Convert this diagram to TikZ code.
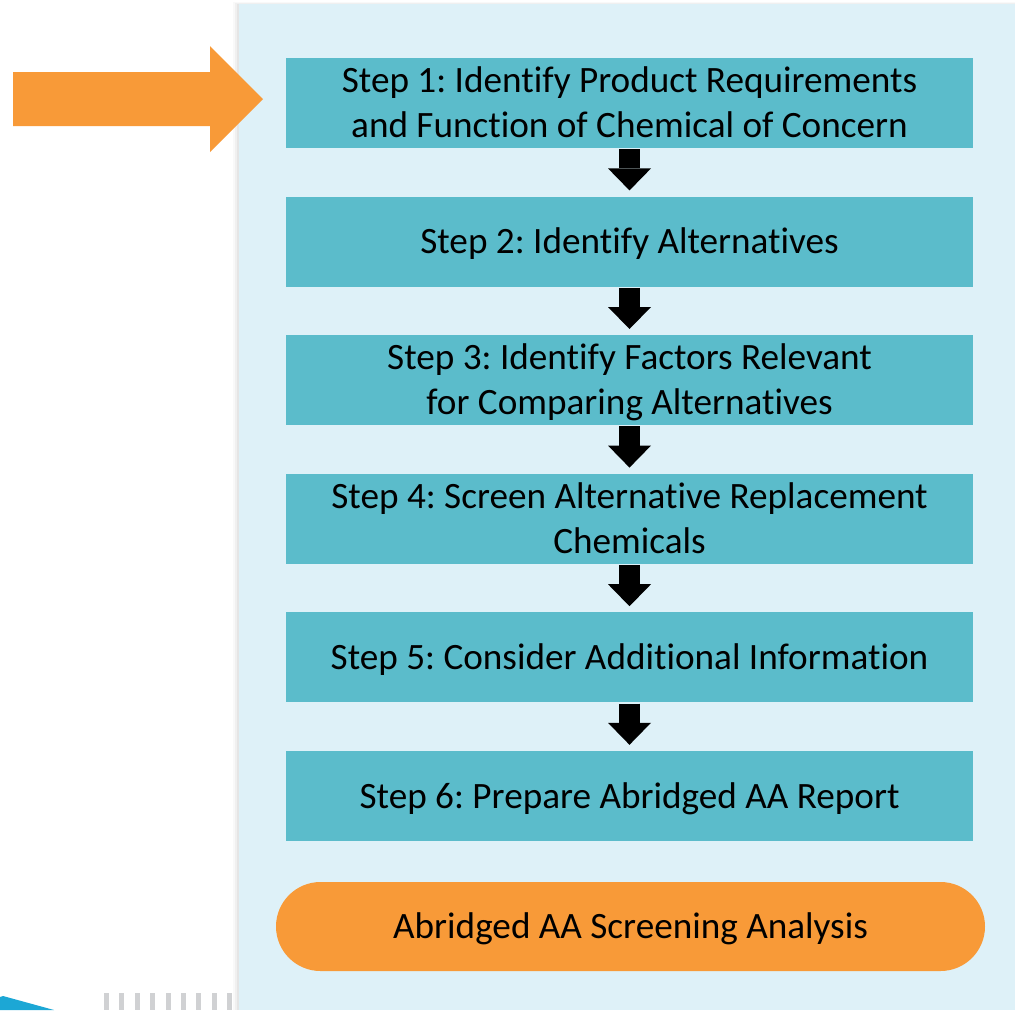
\documentclass[tikz,border=0pt]{standalone}
\usepackage{fontspec}
\setmainfont[Ligatures=NoCommon]{Carlito}
\usetikzlibrary{arrows.meta}
\definecolor{panelbg}{RGB}{222,241,248}
\definecolor{stepfill}{RGB}{91,188,203}
\definecolor{orangeA}{RGB}{248,154,56}
\definecolor{blueA}{RGB}{28,167,213}
\definecolor{barGray}{RGB}{208,209,211}
\newcommand\lnstrut{\rule[-9pt]{0pt}{42pt}}
\tikzset{
  stepbox/.style={fill=stepfill, minimum width=687pt, minimum height=90pt, inner sep=0pt,
    align=center, font=\fontsize{37.2}{45}\selectfont\frenchspacing},
  pill/.style={fill=orangeA, minimum width=709pt, minimum height=89pt, inner sep=0pt,
    rounded corners=44.5pt, align=center, font=\fontsize{37.2}{45}\selectfont\frenchspacing},
  blockarrow/.style={line width=21pt, black, shorten <=1pt, shorten >=6pt,
    -{Triangle[length=22pt,width=43pt,line width=0pt]}}
}
\begin{document}
\begin{tikzpicture}[x=1pt,y=-1pt]
\useasboundingbox (0,0) rectangle (1015,1010);
\fill[white] (0,0) rectangle (1015,1010);
% panel shadow
\fill[black,opacity=0.025] (233,1.5) rectangle (1015,1010);
\fill[black,opacity=0.035] (235,2.5) rectangle (1015,1010);
\fill[black,opacity=0.045] (237,3.5) rectangle (1015,1010);
\fill[panelbg] (239,4) rectangle (1015,1010);
% decorative remnants at bottom left
\fill[blueA] (0,997) -- (3,996) -- (54,1010) -- (0,1010) -- cycle;
\foreach \i in {0,...,8} {
  \fill[barGray] ({104+15.4*\i},993) rectangle ({109+15.4*\i},1010);
}
% orange pointer arrow
\fill[orangeA] (13,72) -- (210,72) -- (210,46) -- (263,99) -- (210,152) -- (210,126) -- (13,126) -- cycle;
% steps
\node[stepbox] (b1) at (629.5,103) {\lnstrut Step 1: Identify Product Requirements\\\lnstrut and Function of Chemical of Concern};
\node[stepbox] (b2) at (629.5,241.6) {\lnstrut Step 2: Identify Alternatives};
\node[stepbox] (b3) at (629.5,380.2) {\lnstrut Step 3: Identify Factors Relevant\\\lnstrut for Comparing Alternatives};
\node[stepbox] (b4) at (629.5,518.8) {\lnstrut Step 4: Screen Alternative Replacement\\\lnstrut Chemicals};
\node[stepbox] (b5) at (629.5,657.4) {\lnstrut Step 5: Consider Additional Information};
\node[stepbox] (b6) at (629.5,796) {\lnstrut Step 6: Prepare Abridged AA Report};
\node[pill] (p) at (630.5,926.5) {\lnstrut Abridged AA Screening Analysis};
\draw[blockarrow] (b1) -- (b2);
\draw[blockarrow] (b2) -- (b3);
\draw[blockarrow] (b3) -- (b4);
\draw[blockarrow] (b4) -- (b5);
\draw[blockarrow] (b5) -- (b6);
\end{tikzpicture}
\end{document}
